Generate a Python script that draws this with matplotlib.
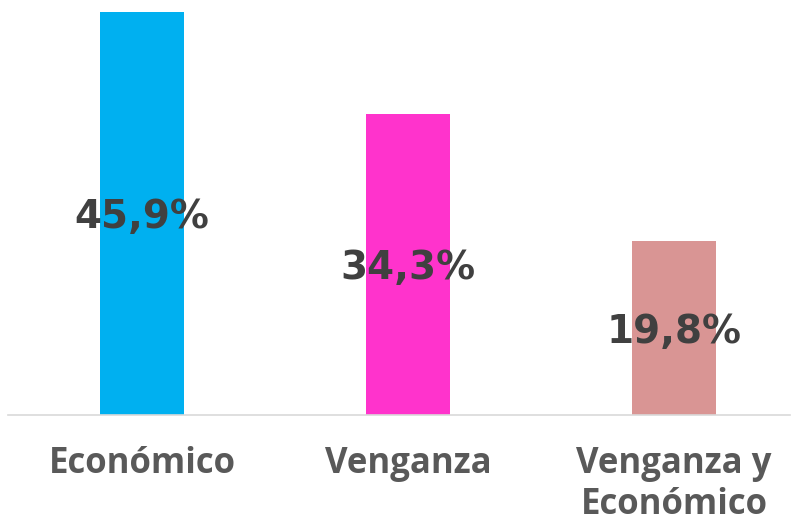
import matplotlib
matplotlib.use("Agg")
import matplotlib.pyplot as plt

categories = ["Económico", "Venganza", "Venganza y\nEconómico"]
values = [45.9, 34.3, 19.8]
labels = ["45,9%", "34,3%", "19,8%"]
colors = ["#00B0F0", "#FF33CC", "#D99594"]

fig = plt.figure(figsize=(7.98, 5.23), dpi=100)
W, H = 798, 523
ax = fig.add_axes([8 / W, 1 - 415 / H, 782 / W, (415 - 12) / H])
x = list(range(len(categories)))
ax.bar(x, values, width=0.316, color=colors, zorder=2)
ax.set_ylim(0, 45.9)
ax.set_xlim(-0.504, 2.436)
for xi, v, lab in zip(x, values, labels):
    ax.text(xi, v / 2 - 0.4, lab, ha="center", va="center", fontsize=28,
            fontweight="heavy", color="#404040", family="DejaVu Sans", zorder=3)
for s in ["top", "right", "left"]:
    ax.spines[s].set_visible(False)
ax.spines["bottom"].set_color("#D9D9D9")
ax.spines["bottom"].set_linewidth(1.2)
ax.set_yticks([])
ax.set_xticks(x)
ax.set_xticklabels(categories, fontsize=25, fontweight="bold", color="#595959",
                   family="Open Sans", linespacing=1.2, va="top")
ax.tick_params(axis="x", length=0, pad=22)
fig.savefig("out.png", dpi=100)
